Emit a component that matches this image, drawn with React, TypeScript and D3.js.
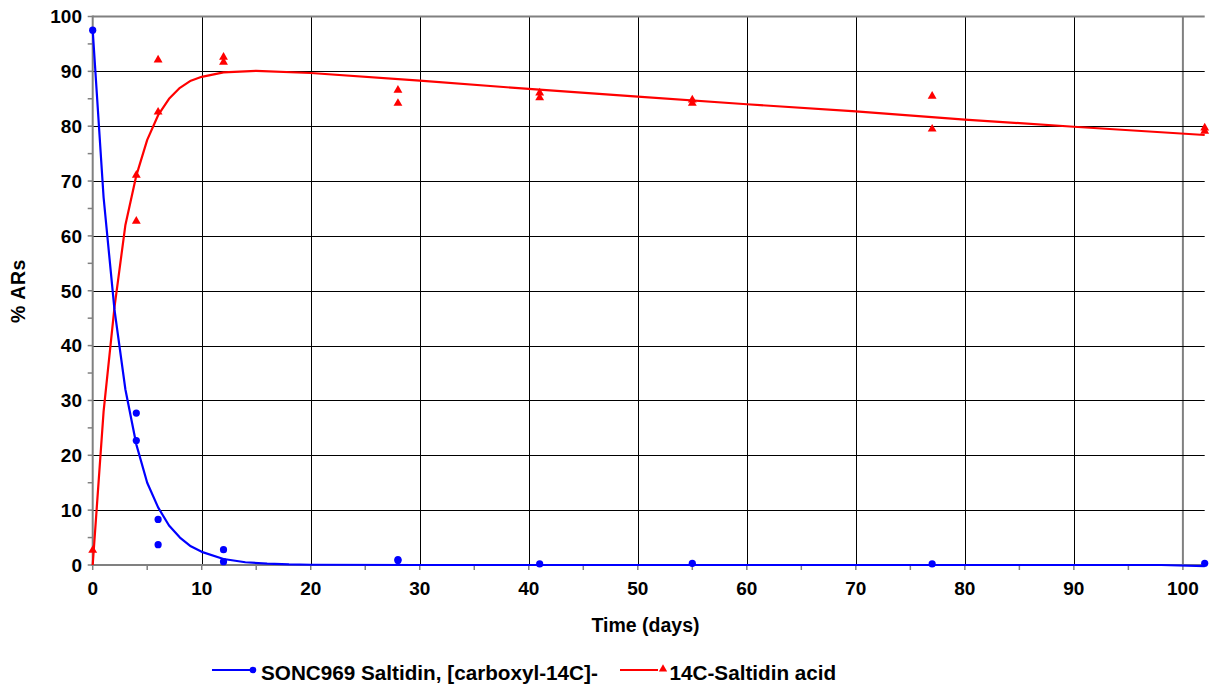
import React from "react";
import * as d3 from "d3";

const blueDays = [0, 4, 4, 6, 6, 12, 12, 28, 28, 41, 55, 77, 102];
const blueVals = [97.5, 27.7, 22.7, 8.3, 3.7, 2.8, 0.6, 1.0, 0.8, 0.2, 0.3, 0.2, 0.3];
const redDays = [0, 4, 4, 6, 6, 12, 12, 28, 28, 41, 41, 55, 55, 77, 77, 102, 102];
const redVals = [2.5, 70.9, 62.5, 91.9, 82.4, 92.4, 91.5, 86.4, 84.0, 85.9, 85.0, 84.6, 84.0, 85.3, 79.3, 79.5, 78.9];

const blueFitDays = [0, 1, 2, 3, 4, 5, 6, 7, 8, 9, 10, 12, 14, 16, 18, 20, 30, 98, 102];
const blueFitVals = [97.5, 67, 46.5, 32, 22, 15, 10.5, 7.2, 5, 3.4, 2.4, 1.1, 0.5, 0.25, 0.1, 0.05, 0, 0, -0.2];
const redFitDays = [0, 1, 2, 3, 4, 5, 6, 7, 8, 9, 10, 12, 15, 20, 30, 40, 50, 60, 70, 80, 90, 102];
const redFitVals = [0, 28, 47, 62, 71, 77.5, 82, 85, 87, 88.3, 89, 89.8, 90.1, 89.7, 88.3, 86.8, 85.4, 84, 82.7, 81.2, 79.9, 78.4];

const xTicks = [0, 10, 20, 30, 40, 50, 60, 70, 80, 90, 100];
const yTicks = [0, 10, 20, 30, 40, 50, 60, 70, 80, 90, 100];
const xMinor = [5, 15, 25, 35, 45, 55, 65, 75, 85, 95];
const yMinor = [5, 15, 25, 35, 45, 55, 65, 75, 85, 95];

const legendLabels = ["SONC969 Saltidin, [carboxyl-14C]-", "14C-Saltidin acid"];

const W = 1212, H = 686;
const L = 92.7, R = 1204.7, T = 16.5, B = 565;
const FONT = "'Liberation Sans', Arial, sans-serif";

export default function App() {
  const x = d3.scaleLinear().domain([0, 102]).range([L, R]);
  const y = d3.scaleLinear().domain([0, 100]).range([B, T]);
  const px = (v: number) => Math.round(v) + 0.5;
  const line = d3.line<[number, number]>().x(d => x(d[0])).y(d => y(d[1]));
  const blueFit = line(blueFitDays.map((d, i) => [d, blueFitVals[i]] as [number, number])) || "";
  const redFit = line(redFitDays.map((d, i) => [d, redFitVals[i]] as [number, number])) || "";
  const tri = d3.symbol().type(d3.symbolTriangle).size(34)() || "";
  const tri2 = d3.symbol().type(d3.symbolTriangle).size(30)() || "";

  return (
    <svg width={W} height={H} style={{ position: "absolute", left: 0, top: 0, background: "#fff" }} fontFamily={FONT}>
      <rect x={0} y={0} width={W} height={H} fill="#fff" />
      {/* gridlines */}
      {xTicks.filter(t => t > 0).map(t => (
        t === 100
          ? <line key={"gx" + t} x1={x(t)} x2={x(t)} y1={T} y2={B} stroke="#808080" strokeWidth={2} />
          : <line key={"gx" + t} x1={px(x(t))} x2={px(x(t))} y1={T} y2={B} stroke="#000" strokeWidth={1} />
      ))}
      {yTicks.filter(t => t > 0).map(t => (
        t === 100
          ? <line key={"gy" + t} x1={L} x2={R} y1={y(t)} y2={y(t)} stroke="#808080" strokeWidth={2} />
          : <line key={"gy" + t} x1={L} x2={R} y1={px(y(t))} y2={px(y(t))} stroke="#000" strokeWidth={1} />
      ))}
      {/* axes */}
      <line x1={L} x2={L} y1={T - 1} y2={B + 1} stroke="#808080" strokeWidth={2} />
      <line x1={L - 1} x2={R} y1={B} y2={B} stroke="#808080" strokeWidth={2} />
      {yTicks.concat(yMinor).map(t => (
        <line key={"ty" + t} x1={L - 5} x2={L} y1={y(t)} y2={y(t)} stroke="#808080" strokeWidth={1.5} />
      ))}
      {xTicks.concat(xMinor).map(t => (
        <line key={"tx" + t} x1={x(t)} x2={x(t)} y1={B} y2={B + 5} stroke="#808080" strokeWidth={1.5} />
      ))}
      {/* tick labels */}
      {yTicks.map(t => (
        <text key={"ly" + t} x={82} y={y(t) + 6.8} textAnchor="end" fontSize={19} fontWeight="bold">{t}</text>
      ))}
      {xTicks.map(t => (
        <text key={"lx" + t} x={x(t)} y={594.5} textAnchor="middle" fontSize={19} fontWeight="bold">{t}</text>
      ))}
      {/* axis titles */}
      <text x={645.5} y={631.5} textAnchor="middle" fontSize={19.5} fontWeight="bold">Time (days)</text>
      <text transform={`translate(25, 291) rotate(-90)`} textAnchor="middle" fontSize={19.5} fontWeight="bold" letterSpacing={0.6}>% ARs</text>
      {/* fitted curves */}
      <path d={redFit} fill="none" stroke="#ff0000" strokeWidth={2.2} strokeLinejoin="round" />
      <path d={blueFit} fill="none" stroke="#0000ff" strokeWidth={2.2} strokeLinejoin="round" />
      {/* points */}
      {redDays.map((d, i) => (
        <path key={"r" + i} d={tri} transform={`translate(${x(d)}, ${y(redVals[i]) - 1})`} fill="#ff0000" />
      ))}
      {blueDays.map((d, i) => (
        <circle key={"b" + i} cx={x(d)} cy={y(blueVals[i])} r={3.6} fill="#0000ff" />
      ))}
      {/* legend */}
      <line x1={212} x2={251} y1={670} y2={670} stroke="#0000ff" strokeWidth={2.2} />
      <circle cx={253} cy={670} r={3.3} fill="#0000ff" />
      <text x={261} y={680} fontSize={20.7} fontWeight="bold">{legendLabels[0]}</text>
      <line x1={620} x2={658} y1={670} y2={670} stroke="#ff0000" strokeWidth={2.2} />
      <path d={tri2} transform={`translate(663, 669)`} fill="#ff0000" />
      <text x={669.5} y={680} fontSize={20.7} fontWeight="bold">{legendLabels[1]}</text>
    </svg>
  );
}
